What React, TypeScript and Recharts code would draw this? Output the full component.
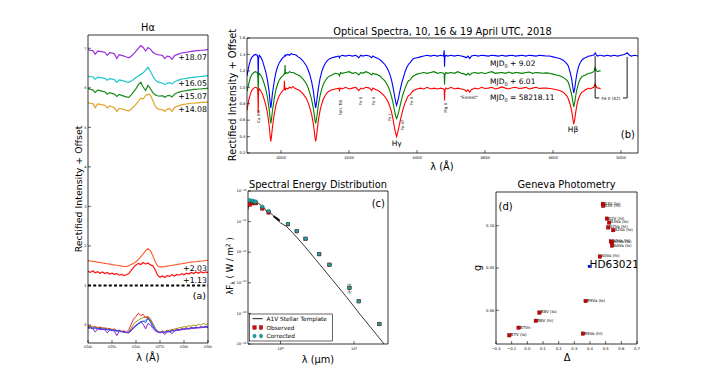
import React from 'react';
import {
  ComposedChart,
  LineChart,
  ScatterChart,
  Line,
  Scatter,
  XAxis,
  YAxis,
  ReferenceLine,
  ErrorBar,
} from 'recharts';

const FONT = '"DejaVu Sans", sans-serif';

// ---------- (a) H-alpha profiles, offset by night ----------
const haWave = [
  6540, 6541, 6542, 6543, 6544, 6545, 6546, 6547, 6548, 6549, 6550,
  6551, 6552, 6553, 6554, 6555, 6556, 6557, 6558, 6559, 6560,
  6561, 6562, 6563, 6564, 6565, 6566, 6567, 6568, 6569, 6570,
  6571, 6572, 6573, 6574, 6575, 6576, 6577, 6578, 6579, 6580,
  6581, 6582, 6583, 6584, 6585, 6586, 6587, 6588, 6589, 6590,
];
const haPurple = [
  6.96, 6.95, 6.94, 6.85, 6.93, 6.92, 6.91, 6.9, 6.82, 6.89, 6.88,
  6.86, 6.74, 6.84, 6.82, 6.8, 6.78, 6.76, 6.8, 6.86, 6.93,
  7.0, 7.07, 7.02, 6.93, 7.02, 6.98, 6.9, 6.86, 6.84, 6.83,
  6.82, 6.74, 6.8, 6.79, 6.72, 6.81, 6.84, 6.86, 6.88, 6.89,
  6.9, 6.91, 6.92, 6.93, 6.94, 6.94, 6.95, 6.95, 6.96, 6.97,
];
const haCyan = [
  6.29, 6.28, 6.28, 6.22, 6.27, 6.26, 6.25, 6.24, 6.19, 6.23, 6.22,
  6.21, 6.14, 6.2, 6.19, 6.17, 6.15, 6.14, 6.17, 6.21, 6.26,
  6.3, 6.34, 6.38, 6.45, 6.52, 6.42, 6.3, 6.2, 6.15, 6.13,
  6.12, 6.08, 6.12, 6.13, 6.1, 6.15, 6.18, 6.2, 6.22, 6.23,
  6.24, 6.25, 6.26, 6.27, 6.27, 6.28, 6.29, 6.29, 6.3, 6.3,
];
const haGreen = [
  5.98, 5.96, 5.95, 5.88, 5.94, 5.93, 5.91, 5.9, 5.84, 5.88, 5.86,
  5.84, 5.78, 5.83, 5.81, 5.79, 5.77, 5.76, 5.82, 5.9, 5.98,
  6.08, 6.14, 6.02, 5.93, 6.06, 5.98, 5.88, 5.82, 5.8, 5.79,
  5.8, 5.76, 5.8, 5.81, 5.77, 5.84, 5.87, 5.89, 5.91, 5.92,
  5.93, 5.94, 5.95, 5.96, 5.96, 5.97, 5.97, 5.98, 5.98, 5.99,
];
const haGold = [
  5.62, 5.61, 5.6, 5.5, 5.59, 5.58, 5.57, 5.56, 5.49, 5.54, 5.52,
  5.5, 5.4, 5.48, 5.47, 5.45, 5.43, 5.42, 5.46, 5.52, 5.58,
  5.66, 5.74, 5.72, 5.8, 5.84, 5.82, 5.68, 5.54, 5.47, 5.45,
  5.45, 5.4, 5.46, 5.47, 5.4, 5.5, 5.53, 5.55, 5.57, 5.58,
  5.59, 5.6, 5.61, 5.61, 5.62, 5.62, 5.63, 5.63, 5.64, 5.64,
];
const haOrange = [
  1.63, 1.62, 1.61, 1.6, 1.59, 1.58, 1.57, 1.56, 1.55, 1.54, 1.53,
  1.52, 1.51, 1.5, 1.49, 1.48, 1.48, 1.5, 1.53, 1.56, 1.6,
  1.66, 1.73, 1.8, 1.88, 1.93, 1.88, 1.75, 1.6, 1.5, 1.47,
  1.47, 1.48, 1.49, 1.5, 1.51, 1.52, 1.53, 1.54, 1.55, 1.56,
  1.57, 1.58, 1.59, 1.6, 1.6, 1.61, 1.62, 1.62, 1.63, 1.64,
];
const haRed = [
  1.36, 1.33, 1.37, 1.32, 1.35, 1.31, 1.34, 1.3, 1.33, 1.29, 1.31,
  1.28, 1.3, 1.26, 1.28, 1.25, 1.27, 1.3, 1.38, 1.46, 1.52,
  1.56, 1.53, 1.58, 1.54, 1.57, 1.52, 1.5, 1.4, 1.26, 1.21,
  1.24, 1.2, 1.25, 1.23, 1.27, 1.24, 1.28, 1.26, 1.3, 1.27,
  1.31, 1.29, 1.33, 1.3, 1.34, 1.31, 1.35, 1.32, 1.34, 1.33,
];
// un-offset residual profiles near zero
const resOlive = [
  -0.02, -0.04, -0.03, -0.06, -0.05, -0.07, -0.06, -0.09, -0.08, -0.1, -0.11,
  -0.12, -0.14, -0.15, -0.16, -0.18, -0.2, -0.17, -0.08, 0.02, 0.08,
  0.12, 0.16, 0.19, 0.2, 0.22, 0.16, 0.04, -0.08, -0.15, -0.18,
  -0.17, -0.16, -0.15, -0.13, -0.12, -0.1, -0.09, -0.07, -0.06, -0.04,
  -0.05, -0.02, -0.03, 0.0, -0.02, 0.02, 0.0, 0.04, 0.01, 0.03,
];
const resRed = [
  -0.05, -0.02, -0.07, -0.04, -0.08, -0.05, -0.09, -0.07, -0.11, -0.09, -0.12,
  -0.1, -0.14, -0.13, -0.16, -0.15, -0.18, -0.12, 0.02, 0.15, 0.22,
  0.3, 0.24, 0.27, 0.18, 0.2, 0.12, 0.02, -0.08, -0.16, -0.19,
  -0.15, -0.18, -0.14, -0.16, -0.12, -0.14, -0.1, -0.12, -0.09, -0.1,
  -0.07, -0.09, -0.06, -0.08, -0.05, -0.07, -0.04, -0.06, -0.03, -0.05,
];
const resCyan = [
  -0.06, -0.07, -0.06, -0.09, -0.08, -0.09, -0.1, -0.11, -0.12, -0.12, -0.13,
  -0.14, -0.16, -0.16, -0.17, -0.18, -0.19, -0.19, -0.14, -0.08, -0.03,
  0.02, 0.06, 0.09, 0.12, 0.16, 0.1, 0.0, -0.1, -0.16, -0.19,
  -0.18, -0.18, -0.17, -0.16, -0.15, -0.14, -0.13, -0.12, -0.11, -0.1,
  -0.09, -0.09, -0.08, -0.07, -0.07, -0.06, -0.06, -0.05, -0.05, -0.04,
];
const resBlue = [
  -0.08, -0.06, -0.09, -0.07, -0.1, -0.08, -0.11, -0.1, -0.12, -0.11, -0.14,
  -0.13, -0.15, -0.14, -0.17, -0.16, -0.19, -0.18, -0.12, -0.05, 0.0,
  0.04, 0.08, 0.1, 0.06, 0.18, 0.08, -0.04, -0.12, -0.17, -0.2,
  -0.17, -0.19, -0.16, -0.17, -0.14, -0.15, -0.12, -0.13, -0.1, -0.11,
  -0.09, -0.1, -0.07, -0.08, -0.06, -0.07, -0.05, -0.06, -0.04, -0.05,
];
const resPurple = [
  -0.07, -0.08, -0.09, -0.18, -0.1, -0.11, -0.11, -0.12, -0.2, -0.13, -0.14,
  -0.15, -0.27, -0.16, -0.17, -0.18, -0.19, -0.2, -0.15, -0.08, -0.02,
  0.04, 0.08, 0.02, -0.1, 0.04, 0.0, -0.08, -0.15, -0.18, -0.19,
  -0.19, -0.24, -0.18, -0.17, -0.22, -0.15, -0.14, -0.13, -0.12, -0.11,
  -0.1, -0.1, -0.09, -0.08, -0.08, -0.07, -0.07, -0.06, -0.06, -0.05,
];
const haTicksX = [6540, 6550, 6560, 6570, 6580, 6590];
const haTicksY = [0, 1, 2, 3, 4, 5, 6, 7];

// ---------- (b) optical spectra ----------
const specWave = [
  3900, 3905, 3910, 3915, 3920, 3925, 3930, 3932, 3933, 3934, 3936,
  3940, 3945, 3950, 3955, 3960, 3965, 3968, 3970, 3972, 3975, 3980, 3985, 3990, 3995, 4000, 4005, 4009,
  4010, 4011, 4012, 4013, 4015, 4020, 4025, 4030, 4035, 4040, 4045,
  4050, 4055, 4060, 4065, 4070, 4075, 4080, 4085, 4090, 4095, 4098, 4100, 4102, 4104, 4106, 4110, 4115, 4120, 4125, 4130, 4135, 4140, 4145, 4150, 4160,
  4170, 4172, 4175, 4180, 4190, 4200, 4210, 4220, 4229, 4235, 4240, 4250, 4260, 4267,
  4270, 4275, 4280, 4285, 4290, 4295, 4300, 4305, 4310, 4315, 4320, 4325, 4330, 4335, 4338, 4340, 4342, 4345, 4350, 4355, 4360, 4365, 4370, 4375, 4380, 4385, 4390, 4400, 4410,
  4420, 4430, 4440, 4450, 4460, 4470, 4478, 4480, 4481, 4482, 4485, 4490, 4500, 4510, 4520, 4530, 4540, 4545, 4550, 4555, 4560,
  4570, 4580, 4590, 4600, 4610, 4620, 4630, 4640, 4650, 4660, 4670, 4680, 4690, 4700, 4710, 4720, 4730, 4740, 4750, 4760, 4770, 4780, 4790,
  4800, 4810, 4820, 4830, 4840, 4845, 4850, 4855, 4858, 4861, 4864, 4867, 4870, 4875, 4880, 4885, 4890, 4895, 4900, 4905, 4910, 4915, 4920, 4924, 4928, 4932, 4936, 4940,
  4950, 4960, 4970, 4980, 4990, 5000, 5010, 5018, 5025, 5030, 5040, 5050,
];
const specRed = [
  0.72, 0.84, 0.92, 0.97, 0.99, 1.0, 0.99, 0.96, 0.68, 0.95, 0.98,
  0.96, 0.92, 0.86, 0.79, 0.69, 0.54, 0.41, 0.34, 0.4, 0.52, 0.67, 0.78, 0.85, 0.9, 0.93, 0.96, 0.97,
  1.08, 0.97, 0.98, 0.97, 0.99, 0.98, 1.0, 0.99, 1.01, 0.99, 0.98,
  0.97, 0.96, 0.94, 0.92, 0.89, 0.86, 0.81, 0.75, 0.67, 0.56, 0.46, 0.39, 0.34, 0.39, 0.46, 0.6, 0.72, 0.8, 0.86, 0.9, 0.93, 0.95, 0.96, 0.97, 0.98,
  0.99, 0.96, 0.99, 0.98, 1.0, 0.98, 0.99, 1.0, 0.96, 0.99, 0.98, 1.0, 0.99, 0.96,
  0.99, 0.98, 0.97, 0.96, 0.95, 0.93, 0.91, 0.89, 0.86, 0.82, 0.77, 0.7, 0.6, 0.48, 0.43, 0.4, 0.43, 0.48, 0.58, 0.67, 0.75, 0.81, 0.86, 0.9, 0.91, 0.94, 0.96, 0.98, 0.99,
  0.98, 1.0, 0.98, 0.99, 0.98, 0.99, 0.98, 0.97, 0.84, 0.96, 0.99, 0.98, 1.0, 0.98, 0.99, 0.98, 0.97, 0.95, 0.97, 0.94, 0.97,
  0.99, 0.98, 1.0, 0.985, 0.99, 1.0, 0.98, 0.99, 1.005, 0.99, 0.98, 0.995, 1.0, 0.985, 0.99, 1.0, 0.98, 0.99, 1.0, 0.985, 0.99, 0.99, 0.985,
  0.98, 0.97, 0.96, 0.94, 0.9, 0.86, 0.8, 0.71, 0.63, 0.55, 0.61, 0.7, 0.78, 0.86, 0.91, 0.94, 0.95, 0.97, 0.98, 0.99, 0.98, 0.99, 1.0, 1.04, 1.0, 0.99, 0.99, 0.98,
  null, null, null, null, null, null, null, null, null, null, null, null,
];
const specGreen = [
  0.95, 1.04, 1.12, 1.16, 1.18, 1.19, 1.18, 1.15, 0.9, 1.14, 1.17,
  1.15, 1.11, 1.05, 0.98, 0.88, 0.74, 0.62, 0.56, 0.61, 0.72, 0.86, 0.97, 1.04, 1.09, 1.12, 1.14, 1.16,
  1.16, 1.17, 1.27, 1.16, 1.18, 1.17, 1.19, 1.18, 1.18, 1.17, 1.16,
  1.15, 1.14, 1.12, 1.1, 1.07, 1.04, 0.99, 0.93, 0.85, 0.75, 0.66, 0.6, 0.56, 0.6, 0.66, 0.79, 0.9, 0.98, 1.04, 1.08, 1.11, 1.13, 1.14, 1.15, 1.17,
  1.16, 1.14, 1.18, 1.17, 1.18, 1.19, 1.17, 1.18, 1.15, 1.18, 1.17, 1.19, 1.17, 1.15,
  1.17, 1.16, 1.16, 1.15, 1.14, 1.12, 1.1, 1.08, 1.05, 1.01, 0.96, 0.89, 0.8, 0.69, 0.64, 0.62, 0.64, 0.68, 0.77, 0.86, 0.93, 0.99, 1.04, 1.08, 1.09, 1.12, 1.14, 1.16, 1.17,
  1.18, 1.17, 1.18, 1.19, 1.17, 1.18, 1.17, 1.16, 1.03, 1.15, 1.18, 1.17, 1.18, 1.17, 1.19, 1.17, 1.16, 1.15, 1.17, 1.15, 1.17,
  1.18, 1.17, 1.18, 1.165, 1.18, 1.19, 1.17, 1.175, 1.18, 1.17, 1.185, 1.17, 1.18, 1.175, 1.17, 1.18, 1.185, 1.17, 1.18, 1.175, 1.17, 1.175, 1.17,
  1.16, 1.15, 1.14, 1.12, 1.09, 1.06, 0.99, 0.91, 0.83, 0.76, 0.82, 0.9, 0.97, 1.05, 1.1, 1.13, 1.14, 1.15, 1.16, 1.17, 1.17, 1.18, 1.19, 1.24, 1.2, 1.19, 1.2, 1.2,
  null, null, null, null, null, null, null, null, null, null, null, null,
];
const specBlue = [
  1.14, 1.25, 1.33, 1.37, 1.39, 1.4, 1.39, 1.36, 1.12, 1.35, 1.39,
  1.37, 1.33, 1.26, 1.19, 1.09, 0.95, 0.82, 0.75, 0.81, 0.93, 1.07, 1.18, 1.25, 1.3, 1.33, 1.36, 1.37,
  1.38, 1.38, 1.39, 1.38, 1.39, 1.4, 1.39, 1.41, 1.4, 1.4, 1.39,
  1.37, 1.36, 1.34, 1.32, 1.29, 1.26, 1.21, 1.15, 1.07, 0.96, 0.86, 0.8, 0.75, 0.8, 0.86, 0.99, 1.11, 1.19, 1.25, 1.29, 1.32, 1.34, 1.35, 1.36, 1.37,
  1.38, 1.36, 1.38, 1.39, 1.38, 1.39, 1.38, 1.39, 1.36, 1.39, 1.38, 1.39, 1.38, 1.36,
  1.38, 1.37, 1.36, 1.35, 1.34, 1.32, 1.3, 1.28, 1.25, 1.21, 1.16, 1.09, 0.99, 0.87, 0.81, 0.78, 0.81, 0.86, 0.96, 1.05, 1.12, 1.19, 1.24, 1.28, 1.3, 1.33, 1.35, 1.36, 1.37,
  1.38, 1.39, 1.38, 1.39, 1.38, 1.39, 1.38, 1.45, 1.25, 1.37, 1.39, 1.38, 1.39, 1.38, 1.39, 1.38, 1.37, 1.36, 1.38, 1.35, 1.38,
  1.39, 1.38, 1.39, 1.385, 1.38, 1.39, 1.385, 1.38, 1.39, 1.38, 1.385, 1.39, 1.38, 1.385, 1.39, 1.38, 1.39, 1.385, 1.38, 1.39, 1.385, 1.38, 1.38,
  1.37, 1.36, 1.35, 1.33, 1.29, 1.26, 1.19, 1.1, 1.01, 0.93, 0.99, 1.08, 1.16, 1.25, 1.3, 1.33, 1.35, 1.36, 1.37, 1.38, 1.38, 1.39, 1.39, 1.42, 1.39, 1.38, 1.39, 1.39,
  1.38, 1.39, 1.38, 1.39, 1.38, 1.39, 1.4, 1.42, 1.39, 1.38, 1.39, 1.38,
];
const specTicksX = [4000, 4200, 4400, 4600, 4800, 5000];
const specTicksY = [0.2, 0.4, 0.6, 0.8, 1.0, 1.2, 1.4, 1.6];

// ---------- (c) spectral energy distribution ----------
const sedTemplateWave = [
  0.35, 0.36, 0.365, 0.37, 0.38, 0.39, 0.4, 0.41, 0.42, 0.434, 0.44, 0.46, 0.486, 0.5,
  0.55, 0.6, 0.656, 0.7, 0.8, 0.9, 1.0, 1.2, 1.5, 2.0, 3.0, 5.0, 8.0, 12, 20, 29,
];
const sedTemplateFlux = [
  2.2e-11, 2.6e-11, 3.0e-11, 4.0e-11, 4.6e-11, 4.2e-11, 4.9e-11, 3.8e-11, 5.0e-11, 3.9e-11, 4.9e-11, 4.6e-11, 3.6e-11, 4.0e-11,
  3.3e-11, 2.8e-11, 2.0e-11, 2.1e-11, 1.55e-11, 1.15e-11, 9.0e-12, 7.0e-12, 4.0e-12, 1.85e-12, 5.8e-13, 1.3e-13, 3.3e-14, 9.5e-15, 2.1e-15, 7.0e-16,
];
const sedWave = [0.38, 0.417, 0.44, 0.457, 0.562, 0.687, 1.26, 1.66, 2.19, 3.35, 4.63, 8.66, 11.6, 22.1];
const sedObserved = [3.6e-11, 4.0e-11, 4.3e-11, 4.0e-11, 2.7e-11, 2.0e-11, 8.2e-12, 4.85e-12, 2.74e-12, 8.65e-13, 3.88e-13, 6.8e-14, 2.5e-14, 4.5e-15];
const sedCorrected = [5.0e-11, 4.8e-11, 4.4e-11, 4.5e-11, 3.07e-11, 2.2e-11, 8.4e-12, 4.9e-12, 2.76e-12, 8.7e-13, 3.9e-13, 6.8e-14, 2.5e-14, 4.5e-15];
const sedErr = [4e-12, 4e-12, 4e-12, 4e-12, 2e-12, 1.5e-12, 5e-13, 2.5e-13, 1.5e-13, 4e-14, 2e-14, 2.2e-14, 1.5e-15, 4e-16];
const sedExtraWave = [0.82, 0.85, 0.87, 0.89, 0.91, 0.93, 0.95];
const sedExtraFlux = [1.45e-11, 1.35e-11, 1.3e-11, 1.25e-11, 1.2e-11, 1.15e-11, 1.1e-11];
const sedTicksX = [1, 10];
const sedTicksY = [1e-15, 1e-14, 1e-13, 1e-12, 1e-11, 1e-10];

// ---------- (d) Geneva photometry ----------
const genevaName = [
  'A3V (lo)', 'A3V (hi)', 'A2V (hi)', 'A3Va (lo)', 'A2Va (hi)', 'A2Va (lo)', 'A1Va (hi)', 'A1Va (lo)',
  'A0Va (lo)', 'A0Va (hi)', 'B9Va (lo)', 'B8V (lo)', 'B8V (hi)', 'B7Vn', 'B7V (lo)', 'B9Va (hi)',
];
const genevaDelta = [0.482, 0.484, 0.508, 0.522, 0.516, 0.548, 0.533, 0.541, 0.541, 0.463, 0.372, 0.077, 0.054, -0.056, -0.115, 0.355];
const genevaG = [0.126, 0.1237, 0.1085, 0.1038, 0.098, 0.0948, 0.0815, 0.0804, 0.0765, 0.0636, 0.0109, -0.0028, -0.0125, -0.0207, -0.0297, -0.0277];
const starName = ['HD63021'];
const starDelta = [0.395];
const starG = [0.0519];
const genTicksX = [-0.2, -0.1, 0, 0.1, 0.2, 0.3, 0.4, 0.5, 0.6, 0.7];
const genTicksY = [0, 0.05, 0.1];

// ---------- tables ----------
const haData = haWave.map((w, i) => ({
  w,
  purple: haPurple[i], cyan: haCyan[i], green: haGreen[i], gold: haGold[i],
  orange: haOrange[i], red: haRed[i],
  rOlive: resOlive[i], rRed: resRed[i], rCyan: resCyan[i], rBlue: resBlue[i], rPurple: resPurple[i],
}));
const specData = specWave.map((w, i) => ({ w, r: specRed[i], g: specGreen[i], b: specBlue[i] }));
const sedTemplate = sedTemplateWave.map((x, i) => ({ x, y: sedTemplateFlux[i] }));
const sedObs = sedWave.map((x, i) => ({ x, y: sedObserved[i], e: sedErr[i] * 0.8 }));
const sedCor = sedWave.map((x, i) => ({ x, y: sedCorrected[i], e: sedErr[i] }));
const sedExtra = sedExtraWave.map((x, i) => ({ x, y: sedExtraFlux[i] }));
const genevaData = genevaName.map((name, i) => ({ name, d: genevaDelta[i], g: genevaG[i] }));
const starData = starName.map((name, i) => ({ name, d: starDelta[i], g: starG[i] }));

// ---------- layout helpers ----------
const PAD = 3;
const YW = 22;
const XH = 12;
function frame(l: number, t: number, r: number, b: number) {
  return {
    style: { position: 'absolute' as const, left: l - YW - PAD, top: t - 1 - PAD },
    width: r - l + YW + 1 + PAD * 2,
    height: b - t + XH + 1 + PAD * 2,
    margin: { top: PAD, right: PAD, bottom: PAD, left: PAD },
  };
}
const axisLine = { stroke: '#000', strokeWidth: 0.8 };
const tickLine = { stroke: '#000', strokeWidth: 0.6 };
const tickFont = (fs: number) => ({ fontSize: fs, fill: '#000', fontFamily: FONT });
const minus = (v: number, d: number) => (v < 0 ? `\u2212${Math.abs(v).toFixed(d)}` : v.toFixed(d));

function xAxes(domain: [number, number], ticks: number[], opts: any) {
  return [
    <XAxis key="xb" dataKey={opts.dataKey} type="number" scale={opts.scale ?? 'linear'} domain={domain}
      ticks={ticks} interval={0} allowDataOverflow height={XH} tickSize={-3} tickMargin={6}
      axisLine={axisLine} tickLine={tickLine} tick={opts.tick} tickFormatter={opts.fmt} />,
    <XAxis key="xt" xAxisId="top" orientation="top" type="number" scale={opts.scale ?? 'linear'} domain={domain}
      ticks={ticks} interval={0} allowDataOverflow height={1} tickSize={-3}
      axisLine={axisLine} tickLine={tickLine} tick={false} />,
  ];
}
function yAxes(domain: [number, number], ticks: number[], opts: any) {
  return [
    <YAxis key="yl" type="number" scale={opts.scale ?? 'linear'} domain={domain} ticks={ticks} interval={0}
      allowDataOverflow width={YW} tickSize={-3} tickMargin={4.5}
      axisLine={axisLine} tickLine={tickLine} tick={opts.tick} tickFormatter={opts.fmt} />,
    <YAxis key="yr" yAxisId="right" orientation="right" type="number" scale={opts.scale ?? 'linear'} domain={domain}
      ticks={ticks} interval={0} allowDataOverflow width={1} tickSize={-3}
      axisLine={axisLine} tickLine={tickLine} tick={false} />,
  ];
}

function PowTick(props: any) {
  const { x, y, payload, textAnchor, side } = props;
  const e = Math.round(Math.log10(payload.value));
  const label = e < 0 ? `\u2212${-e}` : `${e}`;
  return (
    <text x={x} y={y} dy={side === 'x' ? 3.2 : 1.2} textAnchor={textAnchor} fontSize={3.6} fontFamily={FONT} fill="#000">
      10<tspan dy={-1.6} fontSize={2.6}>{label}</tspan>
    </text>
  );
}

const obsShape = (p: any) => (
  <rect x={p.cx - 1.8} y={p.cy - 1.8} width={3.6} height={3.6} fill="#d01010" stroke="#600" strokeWidth={0.4} />
);
const corShape = (p: any) => (
  <circle cx={p.cx} cy={p.cy} r={1.8} fill="#18a8a8" stroke="#0a5050" strokeWidth={0.4} />
);
const extraShape = (p: any) => <circle cx={p.cx} cy={p.cy} r={1.1} fill="#111" />;
const genevaShape = (p: any) => (
  <g>
    <rect x={p.cx - 1.7} y={p.cy - 1.7} width={3.4} height={3.4} fill="#d40000" stroke="#500" strokeWidth={0.4} />
    <text x={p.cx + 1.4} y={p.cy + 0.9} fontSize={4} fontFamily={FONT} fill="#000">{p.payload?.name}</text>
  </g>
);
const starShape = (p: any) => (
  <g>
    <rect x={p.cx - 1.4} y={p.cy - 1.4} width={2.8} height={2.8} fill="#0010ff" />
    <text x={p.cx + 0.3} y={p.cy + 1.6} fontSize={10.5} fontFamily={FONT} fill="#000">{p.payload?.name}</text>
  </g>
);

function VText({ x, y, children, fs = 4 }: any) {
  return (
    <text transform={`translate(${x},${y}) rotate(-90)`} textAnchor="end" dominantBaseline="central" fontSize={fs}>
      {children}
    </text>
  );
}

const A = frame(88, 35, 208, 343);
const B = frame(247, 38, 638, 153);
const C = frame(248, 191, 388, 344);
const D = frame(496, 192, 637, 344);

export default function App() {
  return (
    <div style={{ position: 'absolute', left: 0, top: 0, width: 708, height: 383, background: '#fff', overflow: 'hidden', fontFamily: FONT }}>
      {/* (a) */}
      <div style={A.style}>
        <LineChart width={A.width} height={A.height} margin={A.margin} data={haData}>
          {xAxes([6540, 6590], haTicksX, { dataKey: 'w', tick: tickFont(3.3) })}
          {yAxes([-0.455, 7.336], haTicksY, { tick: tickFont(3.5) })}
          <ReferenceLine y={1} stroke="#000" strokeWidth={2.2} strokeDasharray="3 2.2" />
          <Line dataKey="purple" stroke="#9a2fd8" strokeWidth={1.2} dot={false} isAnimationActive={false} />
          <Line dataKey="cyan" stroke="#1cc8cc" strokeWidth={1.2} dot={false} isAnimationActive={false} />
          <Line dataKey="green" stroke="#1f8a1f" strokeWidth={1.2} dot={false} isAnimationActive={false} />
          <Line dataKey="gold" stroke="#e0a428" strokeWidth={1.2} dot={false} isAnimationActive={false} />
          <Line dataKey="orange" stroke="#ff5a28" strokeWidth={1.1} dot={false} isAnimationActive={false} />
          <Line dataKey="red" stroke="#ff1010" strokeWidth={1.2} dot={false} isAnimationActive={false} />
          <Line dataKey="rOlive" stroke="#9a9a10" strokeWidth={1} dot={false} isAnimationActive={false} />
          <Line dataKey="rRed" stroke="#ff2020" strokeWidth={1} dot={false} isAnimationActive={false} />
          <Line dataKey="rCyan" stroke="#20c0d0" strokeWidth={1} dot={false} isAnimationActive={false} />
          <Line dataKey="rBlue" stroke="#2040ff" strokeWidth={1} dot={false} isAnimationActive={false} />
          <Line dataKey="rPurple" stroke="#8a2ad8" strokeWidth={1} dot={false} isAnimationActive={false} />
        </LineChart>
      </div>

      {/* (b) */}
      <div style={B.style}>
        <LineChart width={B.width} height={B.height} margin={B.margin} data={specData}>
          {xAxes([3900, 5050], specTicksX, { dataKey: 'w', tick: tickFont(3.8) })}
          {yAxes([0.2, 1.6], specTicksY, { tick: tickFont(3.8), fmt: (v: number) => v.toFixed(1) })}
          <Line dataKey="b" stroke="#0000ff" strokeWidth={1.1} dot={false} isAnimationActive={false} />
          <Line dataKey="g" stroke="#008000" strokeWidth={1.1} dot={false} isAnimationActive={false} />
          <Line dataKey="r" stroke="#ff0000" strokeWidth={1.1} dot={false} isAnimationActive={false} />
          <ReferenceLine segment={[{ x: 4924, y: 1.38 }, { x: 4924, y: 0.87 }]} stroke="#000" strokeWidth={0.9} />
          <ReferenceLine segment={[{ x: 4924, y: 0.87 }, { x: 4936, y: 0.87 }]} stroke="#000" strokeWidth={0.9} />
          <ReferenceLine segment={[{ x: 5006, y: 0.87 }, { x: 5018, y: 0.87 }]} stroke="#000" strokeWidth={0.9} />
          <ReferenceLine segment={[{ x: 5018, y: 0.87 }, { x: 5018, y: 1.37 }]} stroke="#000" strokeWidth={0.9} />
        </LineChart>
      </div>

      {/* (c) */}
      <div style={C.style}>
        <ComposedChart width={C.width} height={C.height} margin={C.margin}>
          {xAxes([0.36, 29], sedTicksX, { dataKey: 'x', scale: 'log', tick: <PowTick side="x" /> })}
          {yAxes([1e-15, 1e-10], sedTicksY, { scale: 'log', tick: <PowTick side="y" /> })}
          <Line data={sedTemplate} dataKey="y" stroke="#3a3a3a" strokeWidth={1} dot={false} isAnimationActive={false} />
          <Scatter data={sedExtra} dataKey="y" shape={extraShape} isAnimationActive={false} />
          <Scatter data={sedObs} dataKey="y" shape={obsShape} isAnimationActive={false}>
            <ErrorBar dataKey="e" direction="y" width={2} stroke="#e03030" strokeWidth={0.6} />
          </Scatter>
          <Scatter data={sedCor} dataKey="y" shape={corShape} isAnimationActive={false}>
            <ErrorBar dataKey="e" direction="y" width={2} stroke="#30c8c8" strokeWidth={0.6} />
          </Scatter>
        </ComposedChart>
      </div>

      {/* (d) */}
      <div style={D.style}>
        <ScatterChart width={D.width} height={D.height} margin={D.margin}>
          {xAxes([-0.2, 0.7], genTicksX, { dataKey: 'd', tick: tickFont(3.8), fmt: (v: number) => minus(v, 1) })}
          {yAxes([-0.04, 0.14], genTicksY, { tick: tickFont(3.8), fmt: (v: number) => minus(v, 2) })}
          <Scatter data={genevaData} dataKey="g" shape={genevaShape} isAnimationActive={false} />
          <Scatter data={starData} dataKey="g" shape={starShape} isAnimationActive={false} />
        </ScatterChart>
      </div>

      {/* titles, axis labels and annotations */}
      <svg width={708} height={383} style={{ position: 'absolute', left: 0, top: 0, pointerEvents: 'none' }} fontFamily={FONT} fill="#000">
        <text x={148} y={31} textAnchor="middle" fontSize={9.8}>Hα</text>
        <text transform="translate(78,189) rotate(-90)" textAnchor="middle" dominantBaseline="central" fontSize={9.4}>Rectified Intensity + Offset</text>
        <text x={148} y={361} textAnchor="middle" fontSize={9.8}>λ (Å)</text>
        <g fontSize={7.8} textAnchor="end">
          <text x={207} y={60}>+18.07</text>
          <text x={207} y={86}>+16.05</text>
          <text x={207} y={99}>+15.07</text>
          <text x={207} y={112}>+14.08</text>
          <text x={207} y={271}>+2.03</text>
          <text x={207} y={282.5}>+1.13</text>
        </g>
        <text x={206} y={299} textAnchor="end" fontSize={9.5}>(a)</text>

        <text x={442.5} y={34.5} textAnchor="middle" fontSize={9.8}>Optical Spectra, 10, 16 &amp; 19 April UTC, 2018</text>
        <text transform="translate(232,95) rotate(-90)" textAnchor="middle" dominantBaseline="central" fontSize={9.8}>Rectified Intensity + Offset</text>
        <text x={442} y={169.5} textAnchor="middle" fontSize={9.8}>λ (Å)</text>
        <text x={635} y={138} textAnchor="end" fontSize={10}>(b)</text>
        <g fontSize={7.5}>
          <text x={490} y={66}>MJD<tspan fontSize={5} dy={1.5}>0</tspan><tspan dy={-1.5}> + 9.02</tspan></text>
          <text x={490} y={84}>MJD<tspan fontSize={5} dy={1.5}>0</tspan><tspan dy={-1.5}> + 6.01</tspan></text>
          <text x={490} y={100}>MJD<tspan fontSize={5} dy={1.5}>0</tspan><tspan dy={-1.5}> = 58218.11</tspan></text>
        </g>
        <text x={469} y={99} textAnchor="middle" fontSize={4.5}>"Forest"</text>
        <text x={396.7} y={145.5} textAnchor="middle" fontSize={7.5}>Hγ</text>
        <text x={573} y={131.5} textAnchor="middle" fontSize={7.5}>Hβ</text>
        <text x={611} y={99.5} textAnchor="middle" fontSize={4.3}>Fe II (42)</text>
        <VText x={258.8} y={110}>Ca II K</VText>
        <VText x={340.7} y={100}>FeII, TiII</VText>
        <VText x={360} y={97}>Fe II</VText>
        <VText x={373.3} y={97}>Fe II</VText>
        <VText x={389.3} y={114}>Fe I</VText>
        <VText x={402.7} y={120}>Fe II?</VText>
        <VText x={411.7} y={97}>Fe II</VText>
        <VText x={445} y={103}>Mg II</VText>

        <text x={318} y={188} textAnchor="middle" fontSize={9.8}>Spectral Energy Distribution</text>
        <text x={385} y={207} textAnchor="end" fontSize={10}>(c)</text>
        <text transform="translate(230,266) rotate(-90)" textAnchor="middle" dominantBaseline="central" fontSize={8.6}>
          λF<tspan fontSize={6} dy={1.8}>λ</tspan><tspan dy={-1.8}> ( W / m</tspan><tspan fontSize={6} dy={-3}>2</tspan><tspan dy={3}> )</tspan>
        </text>
        <text x={318} y={363} textAnchor="middle" fontSize={9.8}>λ (μm)</text>
        <rect x={249.5} y={314} width={83} height={27} fill="#fff" stroke="#000" strokeWidth={0.6} />
        <line x1={252.5} x2={262.7} y1={318.6} y2={318.6} stroke="#444" strokeWidth={1.2} />
        <text x={266.5} y={320.6} fontSize={5.8}>A1V Stellar Template</text>
        <g stroke="#e03030" strokeWidth={0.6}>
          <line x1={254.5} x2={254.5} y1={325} y2={330} />
          <line x1={261} x2={261} y1={325} y2={330} />
        </g>
        <rect x={252.8} y={325.8} width={3.4} height={3.4} fill="#d01010" stroke="#600" strokeWidth={0.4} />
        <rect x={259.3} y={325.8} width={3.4} height={3.4} fill="#d01010" stroke="#600" strokeWidth={0.4} />
        <text x={266.5} y={329.5} fontSize={5.8}>Observed</text>
        <g stroke="#30c8c8" strokeWidth={0.6}>
          <line x1={254.5} x2={254.5} y1={333.5} y2={338.5} />
          <line x1={261} x2={261} y1={333.5} y2={338.5} />
        </g>
        <circle cx={254.5} cy={336} r={1.7} fill="#18a8a8" stroke="#0a5050" strokeWidth={0.4} />
        <circle cx={261} cy={336} r={1.7} fill="#18a8a8" stroke="#0a5050" strokeWidth={0.4} />
        <text x={266.5} y={338.2} fontSize={5.8}>Corrected</text>

        <text x={566.5} y={188} textAnchor="middle" fontSize={9.8}>Geneva Photometry</text>
        <text x={498.5} y={209.5} fontSize={10}>(d)</text>
        <text transform="translate(477,268) rotate(-90)" textAnchor="middle" dominantBaseline="central" fontSize={9.8}>g</text>
        <text x={567} y={361} textAnchor="middle" fontSize={9.8}>Δ</text>
      </svg>
    </div>
  );
}
